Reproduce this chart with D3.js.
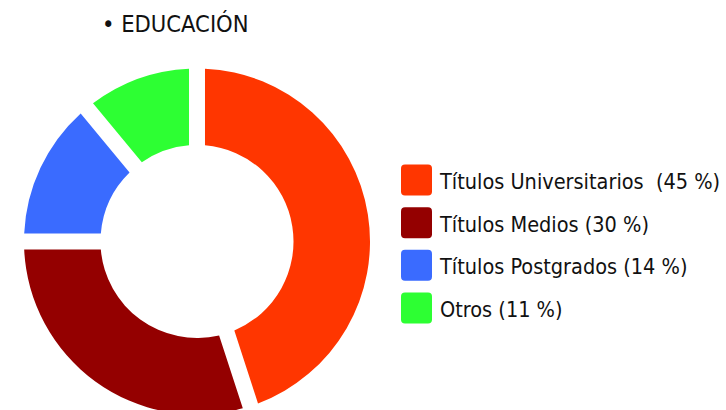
<!DOCTYPE html>
<html>
<head>
<meta charset="utf-8">
<script src="https://cdn.jsdelivr.net/npm/d3@7"></script>
<style>
  html, body { margin: 0; padding: 0; background: #fff; }
  svg { display: block; }
  text { font-family: "Liberation Sans Narrow", "DejaVu Sans Condensed", sans-serif; fill: #111; }
  .legend text { white-space: pre; }
</style>
</head>
<body>
<div id="chart"></div>
<script>
// datos del gráfico
const categories = ["Títulos Universitarios", "Títulos Medios", "Títulos Postgrados", "Otros"];
const values     = [45, 30, 14, 11];
const legendText = ["Títulos Universitarios  (45 %)", "Títulos Medios (30 %)", "Títulos Postgrados (14 %)", "Otros (11 %)"];
const colors     = ["#ff3600", "#940000", "#3a6bff", "#2dff33"];
const title      = "• EDUCACIÓN";

const width = 726, height = 410;

const svg = d3.select("#chart").append("svg")
  .attr("width", width)
  .attr("height", height);

// título
svg.append("text")
  .attr("x", 102)
  .attr("y", 32)
  .attr("font-size", 23.5)
  .text(title);

// donut
const cx = 197, cy = 241.5;
const outerR = 173, innerR = 96.5;

const pie = d3.pie().sort(null).value(d => d.value);
const arc = d3.arc()
  .innerRadius(innerR)
  .outerRadius(outerR)
  .padRadius(100)
  .padAngle(0.16);

const data = categories.map((c, i) => ({ name: c, value: values[i], color: colors[i] }));

const g = svg.append("g").attr("transform", `translate(${cx},${cy})`);
g.selectAll("path")
  .data(pie(data))
  .join("path")
  .attr("d", arc)
  .attr("fill", d => d.data.color);

// leyenda
const legY = d3.scalePoint().domain(categories).range([164.5, 292.5]);
const leg = svg.append("g").attr("class", "legend");
const items = leg.selectAll("g")
  .data(data)
  .join("g")
  .attr("transform", d => `translate(401,${legY(d.name)})`);

items.append("rect")
  .attr("width", 31)
  .attr("height", 31)
  .attr("rx", 4)
  .attr("fill", d => d.color);

items.append("text")
  .attr("x", 39)
  .attr("y", 24.5)
  .attr("font-size", 21.5)
  .text((d, i) => legendText[i]);
</script>
</body>
</html>
